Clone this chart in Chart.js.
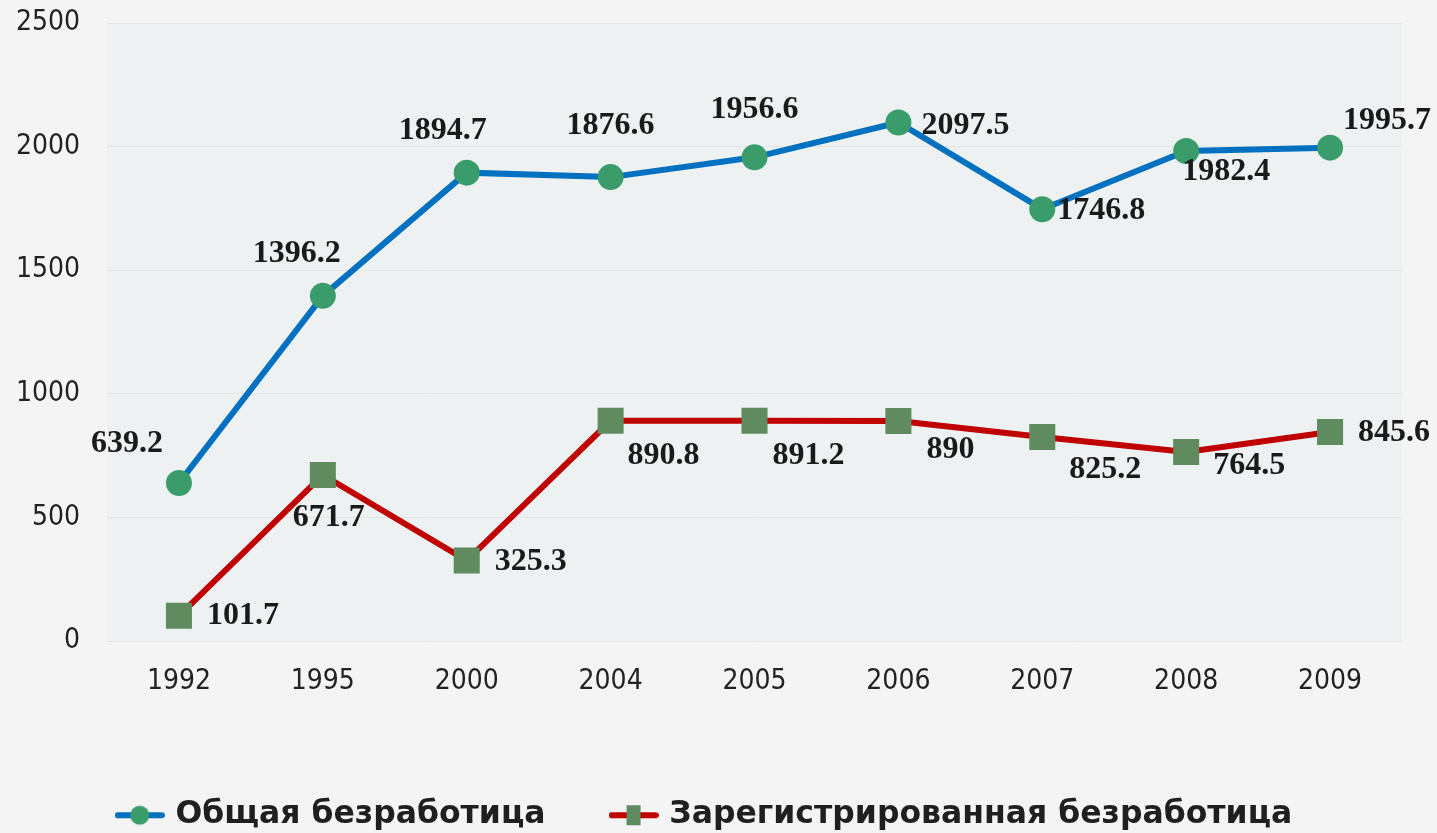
<!DOCTYPE html>
<html>
<head>
<meta charset="utf-8">
<script src="https://cdn.jsdelivr.net/npm/chart.js@4/dist/chart.umd.min.js"></script>
<style>
html,body{margin:0;padding:0;background:#f4f4f4;}
#wrap{width:1437px;height:833px;}
</style>
</head>
<body>
<div id="wrap"><canvas id="c" width="1437" height="833"></canvas></div>
<script>
const years = ['1992','1995','2000','2004','2005','2006','2007','2008','2009'];
const totalUnemployment = [639.2, 1396.2, 1894.7, 1876.6, 1956.6, 2097.5, 1746.8, 1982.4, 1995.7];
const registeredUnemployment = [101.7, 671.7, 325.3, 890.8, 891.2, 890, 825.2, 764.5, 845.6];
const totalLabel = 'Общая безработица';
const registeredLabel = 'Зарегистрированная безработица';
const yTicks = [0, 500, 1000, 1500, 2000, 2500];

// label offsets (pixels, relative to each point)
const totalLabelOffsets = [[-52,-39],[-26,-42],[-24,-42],[0,-51],[0,-48],[67,3],[59,2],[40,21],[57,-27]];
const registeredLabelOffsets = [[64,0],[6,43],[64,1],[53,35],[54,35],[52,29],[63,33],[63,14],[64,1]];

const BLUE = '#0070c0', RED = '#c00000', GREEN = '#3a9b6b', SQUARE = '#5f8b5f';

function legendIcon(kind){
  const cv = document.createElement('canvas');
  cv.width = 50; cv.height = 24;
  const g = cv.getContext('2d');
  g.strokeStyle = kind === 'circle' ? BLUE : RED;
  g.lineWidth = 6; g.lineCap = 'round';
  g.beginPath(); g.moveTo(3,12); g.lineTo(47,12); g.stroke();
  if (kind === 'circle') {
    g.fillStyle = GREEN;
    g.beginPath(); g.arc(25,12,9.5,0,Math.PI*2); g.fill();
  } else {
    g.fillStyle = SQUARE;
    g.fillRect(18,2,14,20);
  }
  return cv;
}
const icons = [legendIcon('circle'), legendIcon('rect')];

const plotBg = {
  id:'plotBg',
  beforeDraw(chart){
    const {ctx, chartArea:a} = chart;
    ctx.save();
    ctx.fillStyle = '#f4f4f4';
    ctx.fillRect(0,0,chart.width,chart.height);
    ctx.fillStyle = '#edf1f2';
    ctx.fillRect(a.left, a.top, a.right-a.left, a.bottom-a.top);
    ctx.restore();
  }
};

const valueLabels = {
  id:'valueLabels',
  afterDatasetsDraw(chart){
    const ctx = chart.ctx;
    const offs = [totalLabelOffsets, registeredLabelOffsets];
    ctx.save();
    ctx.font = 'bold 32px "Liberation Serif", "Times New Roman", serif';
    ctx.fillStyle = '#1a1a1a';
    ctx.textAlign = 'center';
    ctx.textBaseline = 'middle';
    chart.data.datasets.forEach((ds, di) => {
      const meta = chart.getDatasetMeta(di);
      meta.data.forEach((pt, i) => {
        const o = offs[di][i];
        ctx.fillText(String(ds.data[i]), pt.x + o[0], pt.y + o[1]);
      });
    });
    ctx.restore();
  }
};

new Chart(document.getElementById('c'), {
  type:'line',
  data:{
    labels: years,
    datasets:[
      {label: totalLabel, data: totalUnemployment, borderColor: BLUE, borderWidth: 6,
       pointStyle:'circle', pointRadius: 13, pointBackgroundColor: GREEN, pointBorderColor: GREEN, pointBorderWidth: 0,
       tension: 0, fill:false},
      {label: registeredLabel, data: registeredUnemployment, borderColor: RED, borderWidth: 6,
       pointStyle:'rect', pointRadius: 18.4, pointBackgroundColor: SQUARE, pointBorderColor: SQUARE, pointBorderWidth: 0,
       tension: 0, fill:false}
    ]
  },
  options:{
    responsive:false,
    animation:false,
    devicePixelRatio:1,
    layout:{padding:{left:10, right:35, top:23, bottom:-8}},
    plugins:{
      tooltip:{enabled:false},
      legend:{
        position:'bottom',
        labels:{
          usePointStyle:true,
          pointStyleWidth:40,
          padding:68,
          color:'#1f1f1f',
          font:{family:'"DejaVu Sans", sans-serif', size:31.5, weight:'bold'},
          generateLabels(chart){
            return chart.data.datasets.map((ds,i)=>({
              text: ds.label, pointStyle: icons[i], fillStyle: 'transparent', strokeStyle:'transparent',
              lineWidth:0, hidden:false, datasetIndex:i, fontColor:'#1f1f1f'
            }));
          }
        }
      }
    },
    scales:{
      x:{
        offset:true,
        grid:{display:false, drawTicks:false},
        border:{display:false},
        ticks:{padding:24, color:'#222', font:{family:'"DejaVu Sans Condensed", "DejaVu Sans", sans-serif', size:28}},
        afterFit(s){ s.height = 90.5; }
      },
      y:{
        min:0, max:2500,
        afterBuildTicks(s){ s.ticks = yTicks.map(v=>({value:v})); },
        grid:{color:'#e8e3e3', lineWidth:1, drawTicks:false},
        border:{display:false},
        ticks:{padding:27, color:'#222', font:{family:'"DejaVu Sans Condensed", "DejaVu Sans", sans-serif', size:28},
               callback:(v)=>String(v)},
        afterFit(s){ s.width = 97; s.paddingTop = 0; s.paddingBottom = 0; }
      }
    }
  },
  plugins:[plotBg, valueLabels]
});
</script>
</body>
</html>
